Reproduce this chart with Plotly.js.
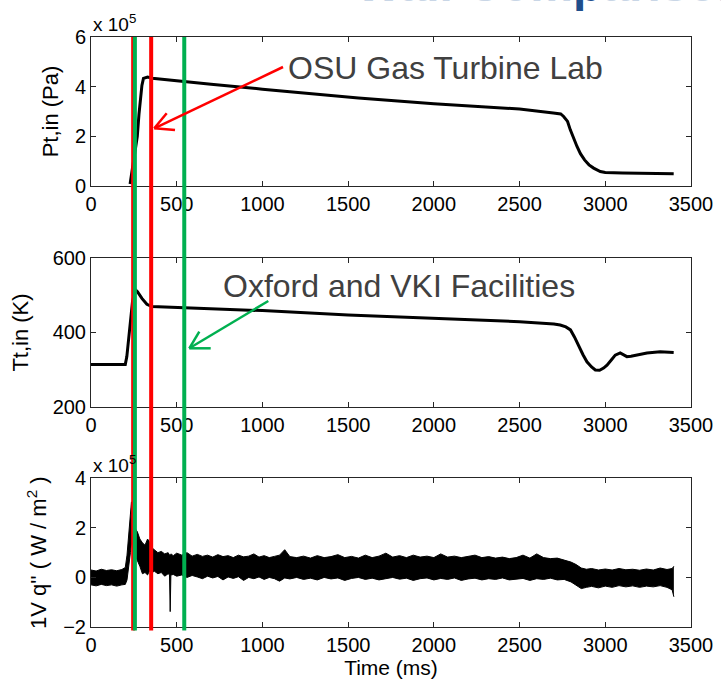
<!DOCTYPE html>
<html>
<head>
<meta charset="utf-8">
<script src="https://cdn.plot.ly/plotly-3.0.1.min.js"></script>
<style>html,body{margin:0;padding:0;background:#fff;}#chart{width:721px;height:679px;}</style>
</head>
<body>
<div id="chart"></div>
<script>
// ---- Data ----
// Top panel: inlet total pressure, units of 1e5 Pa
const ptTime = [228, 240, 258, 270, 280, 287, 297, 306, 318, 330, 357, 450, 540, 700, 1000, 1250, 1560, 2000, 2500, 2697, 2740, 2757, 2780, 2796, 2815, 2835, 2855, 2879, 2905, 2932, 2971, 3000, 3100, 3204, 3300, 3399];
const ptVal  = [0.08, 0.6, 1.45, 2.0, 2.9, 3.47, 4.05, 4.33, 4.37, 4.39, 4.34, 4.27, 4.21, 4.1, 3.9, 3.75, 3.54, 3.31, 3.10, 2.94, 2.90, 2.80, 2.6, 2.26, 1.92, 1.59, 1.3, 1.05, 0.85, 0.72, 0.58, 0.54, 0.52, 0.51, 0.50, 0.49];

// Middle panel: inlet total temperature, K
const ttTime = [0, 100, 200, 209, 219, 233, 242, 258, 271, 297, 326, 355, 540, 1000, 1500, 2000, 2500, 2700, 2737, 2770, 2797, 2820, 2845, 2870, 2893, 2920, 2942, 2967, 2990, 3010, 3035, 3058, 3087, 3105, 3126, 3150, 3184, 3243, 3320, 3399];
const ttVal  = [314, 314, 314, 335, 380, 443, 483, 516, 510, 492, 476, 470, 467, 459, 447, 438, 429, 423, 420, 415, 407, 388, 362, 340, 321, 307, 299, 298, 304, 312, 326, 339, 345, 340, 335, 336, 339, 345, 348, 346];

// Bottom panel: heat flux band (upper / lower envelope of the noisy signal), units of 1e5 W/m^2
const qTime = [0, 30, 60, 90, 120, 150, 180, 200, 210, 220, 230, 236, 242, 250, 260, 270, 285, 300, 315, 330, 340, 355, 370, 390, 410, 430, 450, 458, 462, 466, 480, 500, 530, 560, 590, 620, 650, 680, 710, 740, 770, 800, 830, 860, 890, 920, 950, 980, 1010, 1040, 1070, 1100, 1130, 1160, 1200, 1240, 1280, 1320, 1360, 1400, 1440, 1480, 1520, 1560, 1600, 1640, 1680, 1720, 1760, 1800, 1840, 1880, 1920, 1960, 2000, 2040, 2080, 2120, 2160, 2200, 2240, 2280, 2320, 2360, 2400, 2440, 2480, 2520, 2560, 2600, 2640, 2680, 2720, 2760, 2800, 2830, 2860, 2890, 2920, 2960, 3000, 3040, 3080, 3120, 3160, 3200, 3240, 3280, 3320, 3360, 3390, 3400];
const qHigh = [0.30, 0.26, 0.33, 0.28, 0.31, 0.27, 0.32, 0.40, 0.9, 1.7, 2.5, 3.05, 2.35, 2.15, 1.95, 1.85, 1.55, 1.4, 1.3, 1.55, 1.45, 1.2, 1.1, 1.0, 1.05, 0.95, 1.0, 0.9, 0.92, 0.95, 0.88, 0.98, 0.9, 1.0, 0.86, 0.93, 0.85, 0.9, 0.82, 0.92, 0.84, 0.88, 0.8, 0.9, 0.83, 0.86, 0.95, 0.82, 0.88, 0.8, 0.85, 0.9, 1.12, 0.84, 0.8, 0.86, 0.78, 0.88, 0.8, 0.84, 0.92, 0.8, 0.85, 0.78, 0.9, 0.8, 0.86, 0.98, 0.82, 0.88, 0.8, 0.9, 0.82, 0.86, 0.8, 0.95, 0.82, 0.86, 0.8, 0.84, 0.9, 0.8, 0.84, 0.78, 0.82, 0.76, 0.8, 0.9, 0.78, 0.95, 0.8, 0.76, 0.78, 0.7, 0.62, 0.52, 0.38, 0.33, 0.36, 0.3, 0.34, 0.3, 0.36, 0.31, 0.33, 0.29, 0.34, 0.3, 0.38, 0.32, 0.36, 0.45];
const qLow  = [-0.3, -0.34, -0.28, -0.33, -0.3, -0.35, -0.3, -0.28, -0.1, 0.35, 1.0, 1.4, 1.3, 1.1, 0.85, 0.7, 0.45, 0.15, 0.2, 0.1, 0.25, 0.2, 0.25, 0.15, 0.2, 0.05, 0.15, 0.1, -1.38, 0.1, 0.12, 0.05, 0.1, 0.0, 0.08, 0.02, -0.05, 0.05, -0.02, 0.04, -0.1, 0.02, -0.04, 0.03, -0.12, 0.0, -0.05, 0.02, -0.08, 0.0, -0.05, -0.15, -0.02, -0.06, 0.0, -0.08, -0.03, -0.1, 0.0, -0.06, -0.02, -0.12, -0.04, 0.0, -0.08, -0.03, -0.1, -0.05, 0.0, -0.07, -0.03, -0.12, -0.05, -0.02, -0.1, -0.04, -0.08, -0.02, -0.12, -0.06, -0.03, -0.1, -0.05, -0.08, -0.02, -0.1, -0.06, -0.04, -0.12, -0.05, -0.08, -0.03, -0.1, -0.08, -0.18, -0.3, -0.45, -0.4, -0.36, -0.42, -0.35, -0.4, -0.33, -0.38, -0.34, -0.4, -0.35, -0.38, -0.33, -0.4, -0.5, -0.78];

// Marker times (ms) for the vertical lines
const greenTimes = [256, 544];
const redTimes = [246, 351];

// Tick values
const xTicks = [0, 500, 1000, 1500, 2000, 2500, 3000, 3500];
const ptTicks = [0, 2, 4, 6];
const ttTicks = [200, 400, 600];
const qTicks = [-2, 0, 2, 4];

// ---- Layout helpers ----
const L = 91, T = 37, W = 600, H = 590;
const px = x => (x - L) / W;
const py = y => (T + H - y) / H;
const FONT = 'Liberation Sans, Arial, sans-serif';
const GREEN = '#00B050', RED = '#FF0000';

const traces = [
  {x: ptTime, y: ptVal, xaxis: 'x', yaxis: 'y', mode: 'lines', line: {color: '#000', width: 3}},
  {x: ttTime, y: ttVal, xaxis: 'x2', yaxis: 'y2', mode: 'lines', line: {color: '#000', width: 3}},
  {x: qTime, y: qHigh, xaxis: 'x3', yaxis: 'y3', mode: 'lines', line: {color: '#000', width: 1}},
  {x: qTime, y: qLow, xaxis: 'x3', yaxis: 'y3', mode: 'lines', line: {color: '#000', width: 1}, fill: 'tonexty', fillcolor: '#000'}
];

function xax(domAnchor, title) {
  const a = {
    range: [0, 3500], tickvals: xTicks, ticks: 'inside', ticklen: 5, tickcolor: '#262626',
    showline: true, linecolor: '#262626', linewidth: 1, mirror: 'allticks',
    showgrid: false, zeroline: false, anchor: domAnchor,
    tickfont: {family: FONT, size: 20, color: '#000'}
  };
  if (title) a.title = {text: title, font: {family: FONT, size: 21, color: '#000'}, standoff: 6};
  return a;
}
function yax(range, ticks, dom, anchor, title, standoff) {
  return {
    range: range, tickvals: ticks, domain: dom, anchor: anchor,
    ticks: 'inside', ticklen: 5, tickcolor: '#262626',
    showline: true, linecolor: '#262626', linewidth: 1, mirror: 'allticks',
    showgrid: false, zeroline: false,
    tickfont: {family: FONT, size: 20, color: '#000'},
    title: {text: title, font: {family: FONT, size: 22, color: '#000'}, standoff: standoff}
  };
}

const shapes = [];
// red first (underneath), then green
redTimes.forEach(t => shapes.push({type: 'line', xref: 'x', yref: 'paper', x0: t, x1: t, y0: -0.006, y1: 1, line: {color: RED, width: 4}}));
greenTimes.forEach(t => shapes.push({type: 'line', xref: 'x', yref: 'paper', x0: t, x1: t, y0: -0.006, y1: 1, line: {color: GREEN, width: 4}}));

function arrow(x0, y0, tx, ty, w1, w2, color) {
  const s = [];
  [[x0, y0], w1, w2].forEach(p => s.push({type: 'line', xref: 'paper', yref: 'paper',
    x0: px(p[0]), y0: py(p[1]), x1: px(tx), y1: py(ty), line: {color: color, width: 2.5}}));
  return s;
}
shapes.push(...arrow(283, 67, 154.3, 128.3, [166.7, 113.3], [175, 130], RED));
shapes.push(...arrow(268.3, 301, 189.3, 348.3, [199.3, 331.7], [210.7, 348.3], GREEN));

const annotations = [
  {xref: 'paper', yref: 'paper', x: px(354), y: py(13), xanchor: 'left', yanchor: 'bottom', showarrow: false,
   text: 'Wall Com<span style="color:#1F4E8C">p</span>arison', font: {family: FONT, size: 48, color: '#C9D6E6', weight: 'bold'}},
  {xref: 'paper', yref: 'paper', x: px(286), y: py(68), xanchor: 'left', yanchor: 'middle', showarrow: false,
   text: 'OSU Gas Turbine Lab', font: {family: FONT, size: 32, color: '#404040'}},
  {xref: 'paper', yref: 'paper', x: px(221), y: py(286), xanchor: 'left', yanchor: 'middle', showarrow: false,
   text: 'Oxford and VKI Facilities', font: {family: FONT, size: 32, color: '#404040'}},
  {xref: 'paper', yref: 'paper', x: 0, y: 1, xanchor: 'left', yanchor: 'bottom', showarrow: false,
   text: 'x 10<sup>5</sup>', font: {family: FONT, size: 19, color: '#000'}},
  {xref: 'paper', yref: 'paper', x: 0, y: 0.252, xanchor: 'left', yanchor: 'bottom', showarrow: false,
   text: 'x 10<sup>5</sup>', font: {family: FONT, size: 19, color: '#000'}}
];

const layout = {
  width: 721, height: 679,
  margin: {l: L, r: 30, t: T, b: 52},
  paper_bgcolor: '#fff', plot_bgcolor: '#fff',
  showlegend: false,
  xaxis: xax('y'),
  xaxis2: xax('y2'),
  xaxis3: xax('y3', 'Time (ms)'),
  yaxis: yax([0, 6], ptTicks, [0.7475, 1], 'x', 'Pt,in (Pa)', 10),
  yaxis2: yax([200, 600], ttTicks, [0.3734, 0.6249], 'x2', 'Tt,in (K)', 17),
  yaxis3: yax([-2, 4], qTicks, [0, 0.252], 'x3', "1V q'' ( W / m<sup>2</sup> )", 10),
  shapes: shapes,
  annotations: annotations
};

Plotly.newPlot('chart', traces, layout, {staticPlot: true, displayModeBar: false});
</script>
</body>
</html>
